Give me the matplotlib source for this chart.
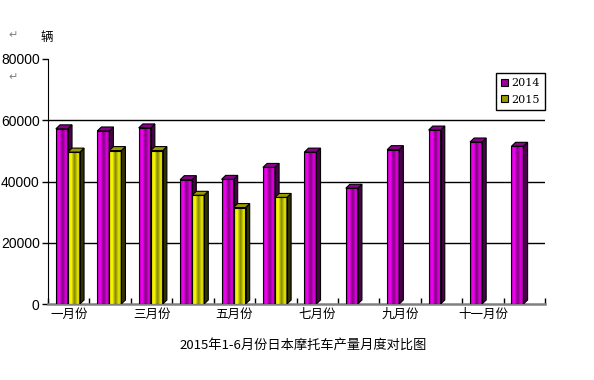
import numpy as np
import matplotlib.pyplot as plt
from matplotlib.colors import LinearSegmentedColormap
from matplotlib.patches import Polygon, Patch

# monthly motorcycle output (units)
months = ['一月份', '二月份', '三月份', '四月份', '五月份', '六月份',
          '七月份', '八月份', '九月份', '十月份', '十一月份', '十二月份']
y2014 = [57200, 56500, 57500, 40600, 40700, 44600, 49600, 37800, 50400, 56800, 52900, 51500]
y2015 = [49600, 50100, 50100, 35500, 31500, 34800]
yticks = [0, 20000, 40000, 60000, 80000]

plt.rcParams['font.family'] = ['Noto Sans CJK SC', 'DejaVu Sans']

fig = plt.figure(figsize=(5.94, 3.8), dpi=100)
ax = fig.add_axes([48/594, 1-304/380, 497/594, 245/380])

styles = {
    '2014': dict(grad=['#b000b0', '#ff00ff', '#7a007a', '#e000e0', '#a000a0'],
                 side='#4a004a', top='#8a008a', icon='#990099'),
    '2015': dict(grad=['#d8d800', '#ffff00', '#808000', '#e8e800', '#b0b000'],
                 side='#333300', top='#9a9a00', icon='#999900'),
}
bw = 0.29
off = 0.19
dx, dy = 0.1, 1300

def bar3d(x0, h, st):
    x1 = x0 + bw
    cmap = LinearSegmentedColormap.from_list('g', st['grad'])
    ax.imshow(np.linspace(0, 1, 64).reshape(1, -1), cmap=cmap, aspect='auto',
              extent=(x0, x1, 0, h), zorder=3, interpolation='bilinear')
    ax.add_patch(Polygon([(x1, 0), (x1 + dx, dy), (x1 + dx, h + dy), (x1, h)],
                         closed=True, fc=st['side'], ec='black', lw=0.8, zorder=3))
    ax.add_patch(Polygon([(x0, h), (x1, h), (x1 + dx, h + dy), (x0 + dx, h + dy)],
                         closed=True, fc=st['top'], ec='black', lw=0.8, zorder=3))
    ax.add_patch(Polygon([(x0, 0), (x1, 0), (x1, h), (x0, h)], closed=True,
                         fill=False, ec='black', lw=0.8, zorder=3))

for i, v in enumerate(y2014):
    bar3d(i + off, v, styles['2014'])
    if i < len(y2015):
        bar3d(i + off + bw, y2015[i], styles['2015'])

ax.set_xlim(0, 12)
ax.set_ylim(0, 80000)

for t in yticks[1:-1]:
    ax.axhline(t, color='black', lw=1, zorder=1)

ax.spines['top'].set_visible(False)
ax.spines['right'].set_visible(False)
ax.spines['left'].set_color('black')
ax.spines['bottom'].set_color('#808080')
ax.spines['bottom'].set_linewidth(1.8)

ax.set_yticks(yticks)
ax.set_yticklabels([str(t) for t in yticks], fontsize=10, family='Liberation Sans')
ax.tick_params(axis='y', direction='out', length=4, width=1, pad=2)

ax.set_xticks(range(13))
ax.set_xticklabels([])
ax.tick_params(axis='x', which='major', direction='in', length=4, width=1)
ax.set_xticks([i + 0.5 for i in range(0, 12, 2)], minor=True)
ax.set_xticklabels([months[i] for i in range(0, 12, 2)], minor=True, fontsize=9)
ax.tick_params(axis='x', which='minor', length=0, pad=3)

handles = [Patch(fc=styles[k]['icon'], ec='black', lw=0.8) for k in ('2014', '2015')]
fig.legend(handles, ['2014', '2015'], loc='upper right', bbox_to_anchor=(545/594, 1-73/380),
           frameon=True, fancybox=False, edgecolor='black', framealpha=1,
           handlelength=0.6, handleheight=0.6, handletextpad=0.35, borderpad=0.45,
           labelspacing=0.6, borderaxespad=0,
           prop={'family': 'DejaVu Serif', 'size': 8})

fig.text(40/594, 1-38/380, '辆', fontsize=9, ha='left', va='center')
fig.text(8/594, 1-35/380, '↵', fontsize=8, color='#808080', ha='left', va='center', family='DejaVu Sans')
fig.text(8/594, 1-77/380, '↵', fontsize=8, color='#808080', ha='left', va='center', family='DejaVu Sans')
fig.text(303/594, 1-345/380, '2015年1-6月份日本摩托车产量月度对比图', fontsize=9.5,
         ha='center', va='center', family=['Noto Sans CJK SC', 'DejaVu Sans'])

fig.savefig('out.png', dpi=100)
